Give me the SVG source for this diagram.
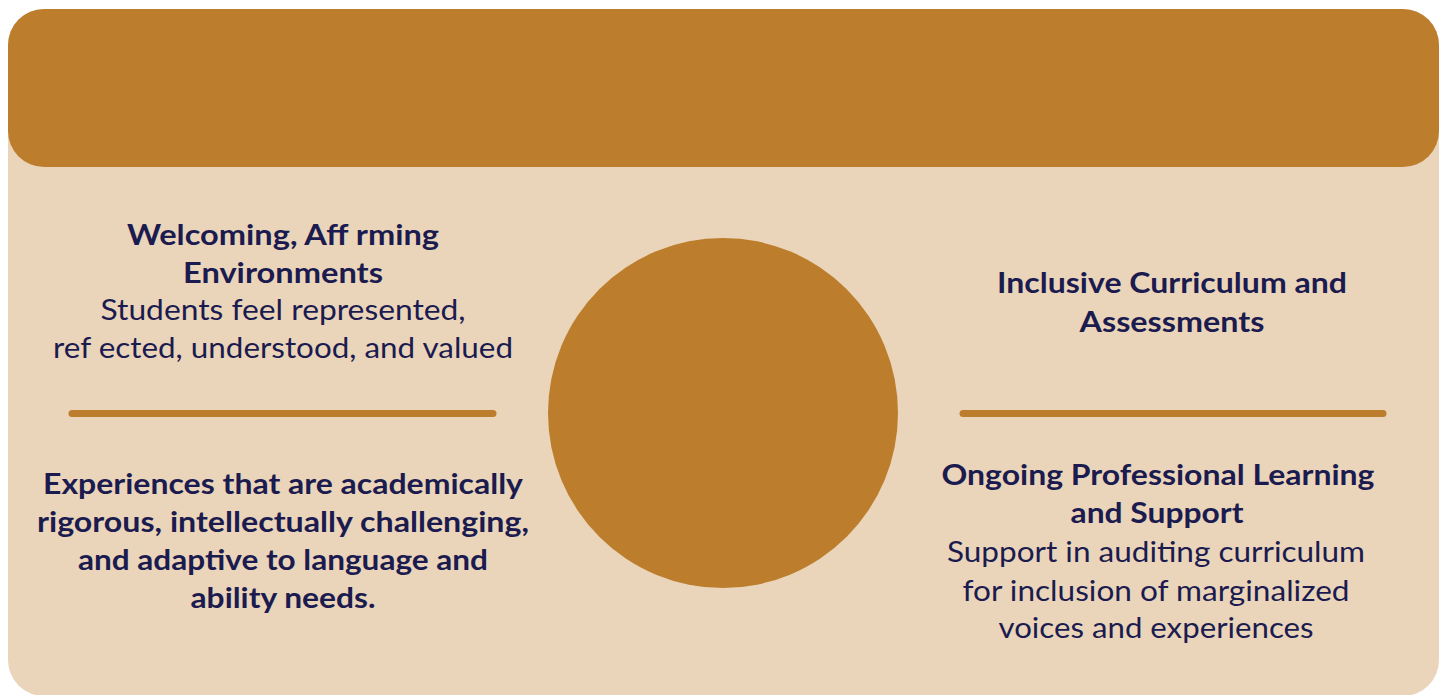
<svg xmlns="http://www.w3.org/2000/svg" width="1444" height="695" viewBox="0 0 1444 695">
<style>
.t{font-family:Lato,"Open Sans","Liberation Sans",sans-serif;font-size:28px;fill:#1b1b4f;text-anchor:middle}
.b{font-weight:bold}
.div{stroke:#bc7e2d;stroke-width:7;stroke-linecap:round}
</style>
<rect width="1444" height="695" fill="#ffffff"/>
<g id="panel">
<rect x="8" y="9" width="1431" height="687" rx="36" fill="#ead5ba"/>
<rect x="8" y="9" width="1431" height="158" rx="36" fill="#bc7e2d"/>
</g>
<g id="hub"><circle cx="723" cy="413" r="175" fill="#bc7e2d"/></g>
<g id="connectors">
<line class="div" x1="72" y1="413.5" x2="493" y2="413.5"/>
<line class="div" x1="963" y1="413.5" x2="1383" y2="413.5"/>
</g>
<g id="welcoming">
<text class="t b" x="283" y="245" textLength="312" lengthAdjust="spacingAndGlyphs">Welcoming, Aff rming</text>
<text class="t b" x="283" y="283" textLength="200" lengthAdjust="spacingAndGlyphs">Environments</text>
<text class="t" x="283" y="320" textLength="365" lengthAdjust="spacingAndGlyphs">Students feel represented,</text>
<text class="t" x="283" y="358" textLength="460" lengthAdjust="spacingAndGlyphs">ref ected, understood, and valued</text>
</g>
<g id="experiences">
<text class="t b" x="283" y="494" textLength="480" lengthAdjust="spacingAndGlyphs">Experiences that are academically</text>
<text class="t b" x="283" y="532" textLength="492" lengthAdjust="spacingAndGlyphs">rigorous, intellectually challenging,</text>
<text class="t b" x="283" y="570" textLength="410" lengthAdjust="spacingAndGlyphs">and adaptive to language and</text>
<text class="t b" x="283" y="608" textLength="185" lengthAdjust="spacingAndGlyphs">ability needs.</text>
</g>
<g id="inclusive">
<text class="t b" x="1172" y="293" textLength="350" lengthAdjust="spacingAndGlyphs">Inclusive Curriculum and</text>
<text class="t b" x="1172" y="332" textLength="185" lengthAdjust="spacingAndGlyphs">Assessments</text>
</g>
<g id="ongoing">
<text class="t b" x="1158" y="485" textLength="433" lengthAdjust="spacingAndGlyphs">Ongoing Professional Learning</text>
<text class="t b" x="1157" y="523" textLength="173" lengthAdjust="spacingAndGlyphs">and Support</text>
<text class="t" x="1156" y="562" textLength="418" lengthAdjust="spacingAndGlyphs">Support in auditing curriculum</text>
<text class="t" x="1156" y="601" textLength="387" lengthAdjust="spacingAndGlyphs">for inclusion of marginalized</text>
<text class="t" x="1156" y="638" textLength="315" lengthAdjust="spacingAndGlyphs">voices and experiences</text>
</g>
</svg>
